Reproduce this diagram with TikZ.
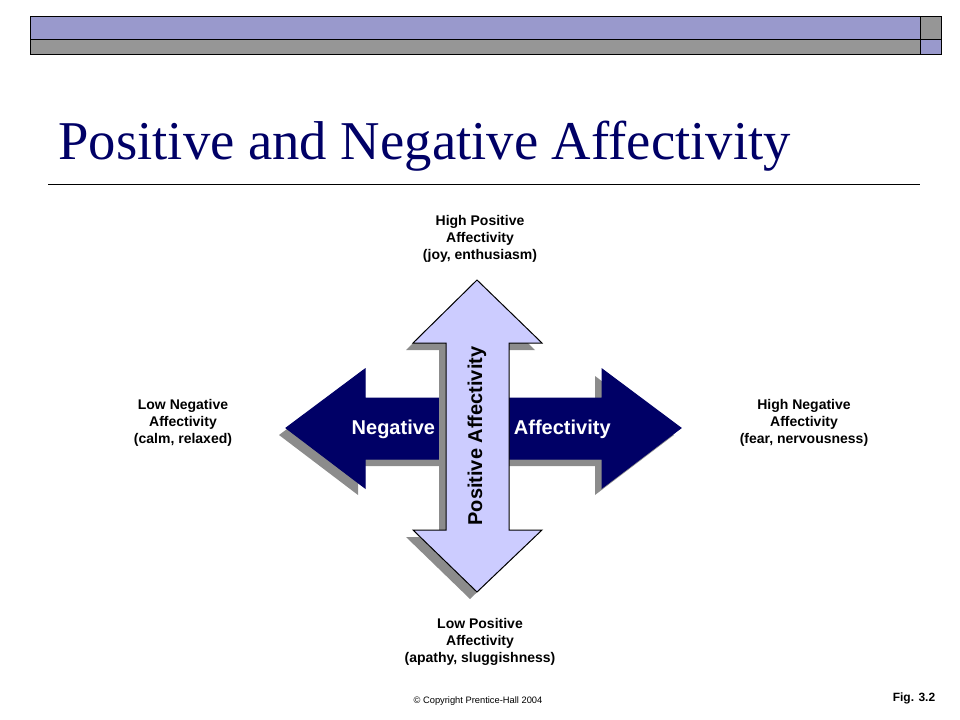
\documentclass[tikz,border=0pt]{standalone}
\usepackage{fontspec}
\setmainfont{Liberation Serif}
\setsansfont{Liberation Sans}
\definecolor{navy}{RGB}{0,0,102}
\definecolor{lilac}{RGB}{204,204,255}
\definecolor{barblue}{RGB}{153,153,204}
\definecolor{bargray}{RGB}{150,150,150}
\tikzset{every picture/.style={line width=0.75pt}}
\tikzset{
  lbl/.style={font=\sffamily\bfseries\fontsize{10.5}{12.5}\selectfont, align=center, text=black},
  arrlbl/.style={font=\sffamily\bfseries\fontsize{15}{18}\selectfont},
  shade/.style={fill=black!45, draw=none}
}
\begin{document}
\begin{tikzpicture}[x=0.75pt,y=0.75pt,yscale=-1,xscale=1]
\useasboundingbox (0,0) rectangle (960,720);

%Top bar
\draw[fill=barblue] (30,17) rectangle (920,40);
\draw[fill=bargray] (920,17) rectangle (941,40);
\draw[fill=bargray] (30,40) rectangle (920,55);
\draw[fill=barblue] (920,40) rectangle (941,55);

%Title
\node[anchor=base west, text=navy, font=\fontsize{41}{48}\selectfont, inner sep=0] (title) at (58,160) {Positive and Negative Affectivity};
\draw[line width=0.6pt] (48,184) -- (920,184);

%Horizontal arrow shadow and body
\fill[shade, shift={(-7,7)}] (286,428) -- (365,369) -- (365,398) -- (602,398) -- (602,369) -- (681,428) -- (602,488) -- (602,459) -- (365,459) -- (365,488) -- cycle;
\draw[fill=navy, draw=navy] (286,428) -- (365,369) -- (365,398) -- (602,398) -- (602,369) -- (681,428) -- (602,488) -- (602,459) -- (365,459) -- (365,488) -- cycle;
\node[arrlbl, text=white, anchor=east] (neg) at (440,429) {Negative};
\node[arrlbl, text=white, anchor=west] (aff) at (509,429) {Affectivity};

%Vertical arrow shadow and body
\fill[shade, shift={(-7,7)}] (477,280) -- (542,343) -- (509,343) -- (509,530) -- (542,530) -- (477,592) -- (413,530) -- (446,530) -- (446,343) -- (413,343) -- cycle;
\draw[fill=lilac] (477,280) -- (542,343) -- (509,343) -- (509,530) -- (542,530) -- (477,592) -- (413,530) -- (446,530) -- (446,343) -- (413,343) -- cycle;
\node[arrlbl, rotate=90] (pos) at (477,436) {Positive Affectivity};

%Pole labels
\node[lbl] (hipos) at (480,239) {High Positive\\Affectivity\\(joy, enthusiasm)};
\node[lbl] (lopos) at (480,642) {Low Positive\\Affectivity\\(apathy, sluggishness)};
\node[lbl] (loneg) at (183,423) {Low Negative\\Affectivity\\(calm, relaxed)};
\node[lbl] (hineg) at (804,423) {High Negative\\Affectivity\\(fear, nervousness)};

%Footer
\node[font=\sffamily\fontsize{7}{8}\selectfont] (copy) at (478,701) {\textcopyright{} Copyright Prentice-Hall 2004};
\node[font=\sffamily\bfseries\fontsize{9}{10}\selectfont] (fig) at (914,698) {Fig. 3.2};
\end{tikzpicture}
\end{document}
